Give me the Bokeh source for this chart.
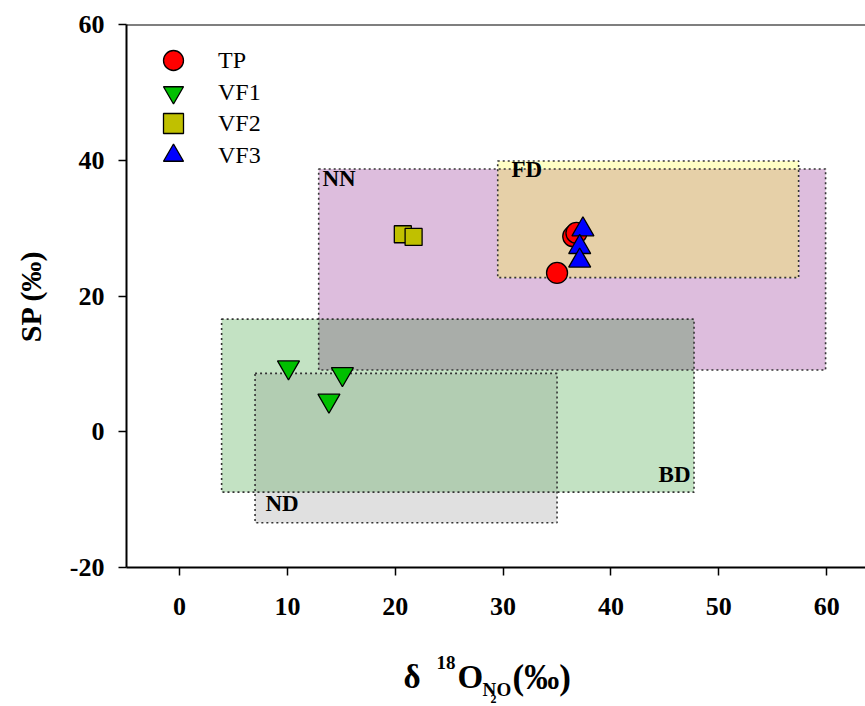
import numpy as np
from bokeh.plotting import figure
from bokeh.layouts import column
from bokeh.models import Range1d, Span, Label, Legend, LegendItem, FixedTicker
from bokeh.core.properties import value
from bokeh.embed import file_html
from bokeh.resources import INLINE

# ---- data ----
tp_x = [35.0, 36.5, 36.8]
tp_y = [23.4, 28.8, 29.3]
vf1_x = [10.1, 15.1, 13.85]
vf1_y = [9.5, 8.5, 4.6]
vf2_x = [20.7, 21.7]
vf2_y = [29.1, 28.7]
vf3_x = [37.4, 37.1, 37.1]
vf3_y = [29.8, 27.2, 25.2]
series_names = ["TP", "VF1", "VF2", "VF3"]

box_names = ["NN", "FD", "BD", "ND"]
box_x0 = [12.9, 29.5, 3.9, 7.0]
box_x1 = [59.9, 57.4, 47.7, 35.0]
box_y0 = [9.1, 22.7, -8.9, -13.4]
box_y1 = [38.7, 39.9, 16.6, 8.6]
box_fill = ["#DDBDDD", "#FFFFC4", "#C3E2C3", "#E0E0E0"]

x_ticks = [0, 10, 20, 30, 40, 50, 60]
y_ticks = [-20, 0, 20, 40, 60]
y_tick_labels = {-20: "-20", 0: "0", 20: "20", 40: "40", 60: "60"}

X0, X1 = -4.92, 63.6
Y0, Y1 = -20, 60
W, H = 865, 706
H2 = 76            # height of the strip holding the x-axis title
H1 = H - H2
FL, FT, FB = 126, 24, 139 - H2

FONT = "Liberation Serif"

p = figure(width=W, height=H1, output_backend="svg", toolbar_location=None,
           x_range=Range1d(X0, X1), y_range=Range1d(Y0, Y1),
           min_border_left=FL, min_border_right=0, min_border_top=FT,
           min_border_bottom=FB)
p.outline_line_color = None
p.grid.visible = False
p.background_fill_color = "white"
p.border_fill_color = "white"

fw = W - FL
fh = H - FT - 139
def px(xp):
    return X0 + (xp - FL) * (X1 - X0) / fw
def py(yp):
    return Y1 - (yp - FT) * (Y1 - Y0) / fh

# ---- boxes ----
p.quad(left=box_x0, right=box_x1, bottom=box_y0, top=box_y1,
       fill_color=box_fill, line_color=None)

def inter(i, j):
    return (max(box_x0[i], box_x0[j]), min(box_x1[i], box_x1[j]),
            max(box_y0[i], box_y0[j]), min(box_y1[i], box_y1[j]))

pairs = [(0, 1), (2, 0), (2, 3)]
pair_fill = ["#E6D0A8", "#A9ADA9", "#B2CDB2"]
il, ir, ib, it = zip(*[inter(i, j) for i, j in pairs])
p.quad(left=list(il), right=list(ir), bottom=list(ib), top=list(it),
       fill_color=pair_fill, line_color=None)

p.quad(left=box_x0, right=box_x1, bottom=box_y0, top=box_y1,
       fill_color=None, line_color="#333333", line_width=1.6,
       line_dash="2 3")

lab_style = dict(text_font=FONT, text_font_style="bold",
                 text_font_size="23px", text_color="black")
p.add_layout(Label(x=px(322), y=py(190), text=box_names[0], **lab_style))
p.add_layout(Label(x=px(511), y=py(181), text=box_names[1], **lab_style))
p.add_layout(Label(x=px(690), y=py(486), text=box_names[2],
                   text_align="right", **lab_style))
p.add_layout(Label(x=px(265), y=py(515), text=box_names[3], **lab_style))

# ---- points ----
r_tp = p.scatter(tp_x, tp_y, marker="circle", size=21, fill_color="#FF0000",
                 line_color="black", line_width=1.3)
r_vf1 = p.scatter(vf1_x, vf1_y, marker="inverted_triangle", size=22,
                  fill_color="#00C000", line_color="black", line_width=1.3)
r_vf2 = p.scatter(vf2_x, vf2_y, marker="square", size=17, fill_color="#C0C000",
                  line_color="black", line_width=1.3)
r_vf3 = p.scatter(vf3_x, vf3_y, marker="triangle", size=22, fill_color="#0000FF",
                  line_color="black", line_width=1.3)

# legend: one single-row legend per series so the rows can sit closer
# than the glyph box height
row_centers = [36, 68, 99, 131]   # px below frame top
for name, r, c in zip(series_names, [r_tp, r_vf1, r_vf2, r_vf3], row_centers):
    lg = Legend(items=[LegendItem(label=name, renderers=[r])],
                location=(22, fh - (c + 25)), glyph_width=50, glyph_height=50,
                label_height=20, spacing=0, padding=0, margin=0,
                label_standoff=20, border_line_color=None,
                background_fill_alpha=0,
                label_text_font=FONT, label_text_font_size="24px",
                label_text_color="black")
    p.add_layout(lg, "center")

# ---- axes ----
for ax in (p.xaxis[0], p.yaxis[0]):
    ax.axis_line_width = 2
    ax.axis_line_color = "black"
    ax.major_tick_line_width = 1.5
    ax.major_tick_line_color = "black"
    ax.major_tick_in = 0
    ax.major_tick_out = 8
    ax.minor_tick_line_color = None
    ax.major_label_text_font = FONT
    ax.major_label_text_font_style = "bold"
    ax.major_label_text_font_size = "26px"
    ax.major_label_text_color = "black"

p.xaxis.major_label_standoff = 22
p.yaxis.major_label_standoff = 14
p.xaxis.ticker = FixedTicker(ticks=x_ticks)
p.yaxis.ticker = FixedTicker(ticks=y_ticks)
p.yaxis.major_label_overrides = y_tick_labels
p.yaxis.axis_label = "SP (‰)"
p.yaxis.axis_label_text_font = FONT
p.yaxis.axis_label_text_font_style = "bold"
p.yaxis.axis_label_text_font_size = "30px"
p.yaxis.axis_label_text_color = "black"
p.yaxis.axis_label_standoff = 20

p.add_layout(Span(location=Y1, dimension="width", line_color="black",
                  line_width=2))

# ---- x-axis title strip: same x data range / frame as the main plot ----
q = figure(width=W, height=H2, output_backend="svg", toolbar_location=None,
           x_range=Range1d(X0, X1), y_range=Range1d(H2, 0),
           min_border_left=FL, min_border_right=0,
           min_border_top=0, min_border_bottom=0)
q.axis.visible = False
q.grid.visible = False
q.outline_line_color = None
q.background_fill_color = "white"
q.border_fill_color = "white"

def tl(xp, yp, txt, size):
    q.text(x=[px(xp)], y=[yp - H1], text=[txt], text_font=value(FONT),
           text_font_style="bold", text_font_size=size, text_color="black",
           text_baseline="alphabetic", text_align="left")

tl(403, 676, "δ", "33px")
tl(436, 662, "18", "19px")
tl(457, 676, "O", "33px")
tl(482, 689, "N", "19px")
tl(490, 698, "2", "12px")
tl(496, 689, "O", "19px")
tl(512, 677, "(‰)", "35px")

layout = column(p, q, spacing=0)
open("out.html", "w").write(file_html(layout, INLINE))
